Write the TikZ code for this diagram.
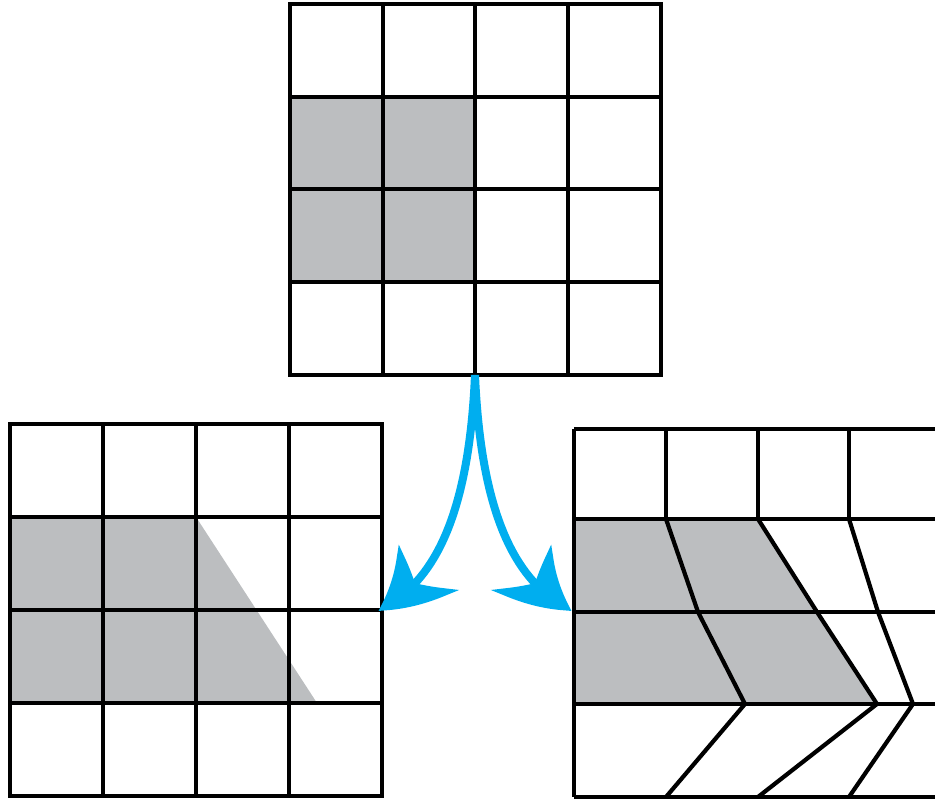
\documentclass[tikz,border=0pt]{standalone}
\usetikzlibrary{arrows.meta,bending}
\definecolor{cellgray}{RGB}{188,190,192}
\definecolor{arrowcyan}{RGB}{0,174,239}
\begin{document}
\begin{tikzpicture}[x=0.01cm,y=-0.01cm,
  gridline/.style={draw=black,line width=0.042cm},
  shade/.style={fill=cellgray},
  flow/.style={draw=arrowcyan,line width=0.08cm,
    -{Stealth[length=0.66cm,width=0.74cm,inset=0.2cm,bend]}}]
\useasboundingbox (0,0) rectangle (935,801);
\clip (0,0) rectangle (935,801);
% top grid
\fill[shade] (290,97) rectangle (475,282);
\draw[gridline] (290,4) rectangle (661,375);
\foreach \x in {383,475,568} \draw[gridline] (\x,4) -- (\x,375);
\foreach \y in {97,189,282} \draw[gridline] (290,\y) -- (661,\y);
% bottom-left grid
\fill[shade] (10,517) -- (196,517) -- (317,703) -- (10,703) -- cycle;
\draw[gridline] (10,424) rectangle (382,796);
\foreach \x in {103,196,289} \draw[gridline] (\x,424) -- (\x,796);
\foreach \y in {517,610,703} \draw[gridline] (10,\y) -- (382,\y);
% bottom-right grid (distorted)
\fill[shade] (574,519) -- (758,519) -- (817,612) -- (877,704) -- (574,704) -- cycle;
\foreach \y in {429,519,612,704,797} \draw[gridline] (574,\y) -- (940,\y);
\draw[gridline] (574,429) -- (574,797);
\foreach \x in {666,758,849} \draw[gridline] (\x,429) -- (\x,519);
\draw[gridline] (666,519) -- (698,612) -- (745,704) -- (666,797);
\draw[gridline] (758,519) -- (817,612) -- (877,704) -- (758,797);
\draw[gridline] (849,519) -- (878,612) -- (913,704) -- (849,797);
% arrows
\coordinate (src) at (475,375);
\coordinate (lt) at (378,610);
\coordinate (rt) at (572,610);
\draw[flow] (src) .. controls (470,490) and (445,580) .. (lt);
\draw[flow] (src) .. controls (480,490) and (505,580) .. (rt);
\end{tikzpicture}
\end{document}
